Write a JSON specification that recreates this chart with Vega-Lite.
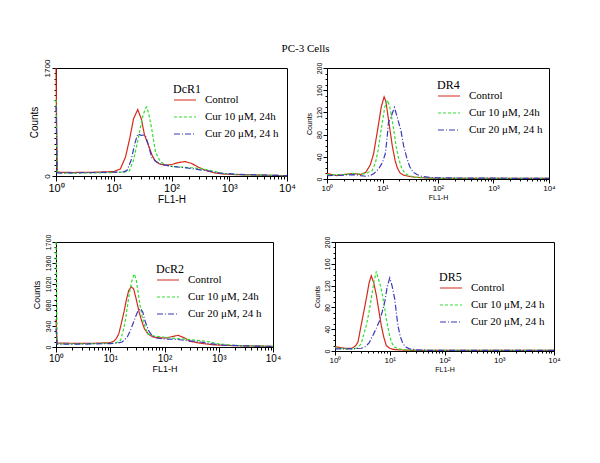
{
  "$schema": "https://vega.github.io/schema/vega-lite/v6.json",
  "background": "white",
  "padding": {"left": 28, "top": 42, "right": 5, "bottom": 5},
  "title": {"text": "PC-3 Cells", "font": "Liberation Serif", "fontSize": 11, "fontWeight": "normal", "color": "black", "anchor": "middle", "offset": 5, "dx": 11},
  "config": {
    "view": {"stroke": "black", "strokeWidth": 1},
    "axis": {"grid": false, "domainColor": "black", "tickColor": "black", "labelColor": "black", "titleColor": "black", "labelFont": "Liberation Sans", "titleFont": "Liberation Sans", "titleFontWeight": "normal", "labelOverlap": false, "labelFlush": false},
    "axisY": {"labelAngle": -90, "labelAlign": "center", "labelBaseline": "bottom", "labelPadding": 1, "format": "d"},
    "axisX": {"labelPadding": 1, "titlePadding": 1},
    "legend": {"orient": "none", "symbolType": "stroke", "symbolSize": 484, "symbolStrokeWidth": 1.2, "labelOffset": 8, "titleFont": "Liberation Serif", "titleFontWeight": "normal", "titleColor": "black", "labelFont": "Liberation Serif", "labelColor": "black", "rowPadding": 0, "titlePadding": -8, "titleFontSize": 12, "labelFontSize": 11}
  },
  "datasets": {
    "dcr1": [
      {"fl": 1, "c": 1700, "s": "Control"}, {"fl": 1.05, "c": 60, "s": "Control"}, {"fl": 2, "c": 55, "s": "Control"}, {"fl": 5, "c": 60, "s": "Control"}, {"fl": 10, "c": 70, "s": "Control"}, {"fl": 13, "c": 110, "s": "Control"}, {"fl": 16, "c": 300, "s": "Control"}, {"fl": 19, "c": 600, "s": "Control"}, {"fl": 22, "c": 900, "s": "Control"}, {"fl": 26, "c": 1045, "s": "Control"}, {"fl": 30, "c": 900, "s": "Control"}, {"fl": 34, "c": 650, "s": "Control"}, {"fl": 40, "c": 480, "s": "Control"}, {"fl": 46, "c": 330, "s": "Control"}, {"fl": 52, "c": 240, "s": "Control"}, {"fl": 62, "c": 190, "s": "Control"}, {"fl": 77, "c": 170, "s": "Control"}, {"fl": 100, "c": 180, "s": "Control"}, {"fl": 130, "c": 210, "s": "Control"}, {"fl": 170, "c": 227, "s": "Control"}, {"fl": 220, "c": 200, "s": "Control"}, {"fl": 290, "c": 140, "s": "Control"}, {"fl": 372, "c": 95, "s": "Control"}, {"fl": 550, "c": 50, "s": "Control"}, {"fl": 800, "c": 30, "s": "Control"}, {"fl": 1500, "c": 20, "s": "Control"}, {"fl": 3000, "c": 15, "s": "Control"}, {"fl": 6000, "c": 10, "s": "Control"}, {"fl": 10000, "c": 5, "s": "Control"},
      {"fl": 1, "c": 1200, "s": "Cur 10 μM, 24h"}, {"fl": 1.05, "c": 45, "s": "Cur 10 μM, 24h"}, {"fl": 2, "c": 45, "s": "Cur 10 μM, 24h"}, {"fl": 5, "c": 50, "s": "Cur 10 μM, 24h"}, {"fl": 10, "c": 55, "s": "Cur 10 μM, 24h"}, {"fl": 15, "c": 60, "s": "Cur 10 μM, 24h"}, {"fl": 18.6, "c": 80, "s": "Cur 10 μM, 24h"}, {"fl": 22, "c": 250, "s": "Cur 10 μM, 24h"}, {"fl": 26, "c": 550, "s": "Cur 10 μM, 24h"}, {"fl": 31, "c": 900, "s": "Cur 10 μM, 24h"}, {"fl": 35, "c": 1060, "s": "Cur 10 μM, 24h"}, {"fl": 37.4, "c": 1086, "s": "Cur 10 μM, 24h"}, {"fl": 41, "c": 950, "s": "Cur 10 μM, 24h"}, {"fl": 45.5, "c": 742, "s": "Cur 10 μM, 24h"}, {"fl": 53, "c": 371, "s": "Cur 10 μM, 24h"}, {"fl": 63, "c": 238, "s": "Cur 10 μM, 24h"}, {"fl": 77, "c": 175, "s": "Cur 10 μM, 24h"}, {"fl": 100, "c": 150, "s": "Cur 10 μM, 24h"}, {"fl": 150, "c": 140, "s": "Cur 10 μM, 24h"}, {"fl": 220, "c": 130, "s": "Cur 10 μM, 24h"}, {"fl": 365, "c": 110, "s": "Cur 10 μM, 24h"}, {"fl": 500, "c": 80, "s": "Cur 10 μM, 24h"}, {"fl": 800, "c": 40, "s": "Cur 10 μM, 24h"}, {"fl": 1500, "c": 20, "s": "Cur 10 μM, 24h"}, {"fl": 3000, "c": 15, "s": "Cur 10 μM, 24h"}, {"fl": 10000, "c": 5, "s": "Cur 10 μM, 24h"},
      {"fl": 1, "c": 1100, "s": "Cur 20 μM, 24 h"}, {"fl": 1.05, "c": 50, "s": "Cur 20 μM, 24 h"}, {"fl": 2, "c": 50, "s": "Cur 20 μM, 24 h"}, {"fl": 5, "c": 55, "s": "Cur 20 μM, 24 h"}, {"fl": 10, "c": 60, "s": "Cur 20 μM, 24 h"}, {"fl": 15, "c": 65, "s": "Cur 20 μM, 24 h"}, {"fl": 17, "c": 90, "s": "Cur 20 μM, 24 h"}, {"fl": 20, "c": 250, "s": "Cur 20 μM, 24 h"}, {"fl": 23, "c": 500, "s": "Cur 20 μM, 24 h"}, {"fl": 26, "c": 663, "s": "Cur 20 μM, 24 h"}, {"fl": 30, "c": 640, "s": "Cur 20 μM, 24 h"}, {"fl": 35, "c": 647, "s": "Cur 20 μM, 24 h"}, {"fl": 40, "c": 480, "s": "Cur 20 μM, 24 h"}, {"fl": 45.5, "c": 291, "s": "Cur 20 μM, 24 h"}, {"fl": 55, "c": 220, "s": "Cur 20 μM, 24 h"}, {"fl": 67, "c": 186, "s": "Cur 20 μM, 24 h"}, {"fl": 100, "c": 150, "s": "Cur 20 μM, 24 h"}, {"fl": 166, "c": 132, "s": "Cur 20 μM, 24 h"}, {"fl": 250, "c": 110, "s": "Cur 20 μM, 24 h"}, {"fl": 425, "c": 80, "s": "Cur 20 μM, 24 h"}, {"fl": 700, "c": 45, "s": "Cur 20 μM, 24 h"}, {"fl": 1500, "c": 25, "s": "Cur 20 μM, 24 h"}, {"fl": 3000, "c": 18, "s": "Cur 20 μM, 24 h"}, {"fl": 10000, "c": 5, "s": "Cur 20 μM, 24 h"}
    ],
    "dr4": [
      {"fl": 1, "c": 10, "s": "Control"}, {"fl": 1.5, "c": 6, "s": "Control"}, {"fl": 2, "c": 8, "s": "Control"}, {"fl": 3, "c": 10, "s": "Control"}, {"fl": 4, "c": 8, "s": "Control"}, {"fl": 5, "c": 12, "s": "Control"}, {"fl": 6, "c": 25, "s": "Control"}, {"fl": 6.9, "c": 45, "s": "Control"}, {"fl": 8.3, "c": 93, "s": "Control"}, {"fl": 9.5, "c": 130, "s": "Control"}, {"fl": 10.7, "c": 148, "s": "Control"}, {"fl": 11.5, "c": 140, "s": "Control"}, {"fl": 12.5, "c": 115, "s": "Control"}, {"fl": 13.7, "c": 87, "s": "Control"}, {"fl": 15, "c": 60, "s": "Control"}, {"fl": 16.9, "c": 33, "s": "Control"}, {"fl": 18.5, "c": 20, "s": "Control"}, {"fl": 20.7, "c": 11, "s": "Control"}, {"fl": 24, "c": 7, "s": "Control"}, {"fl": 28.8, "c": 5, "s": "Control"}, {"fl": 40, "c": 3, "s": "Control"}, {"fl": 60, "c": 2, "s": "Control"}, {"fl": 100, "c": 1, "s": "Control"}, {"fl": 1000, "c": 1, "s": "Control"}, {"fl": 10000, "c": 1, "s": "Control"},
      {"fl": 1, "c": 8, "s": "Cur 10 μM, 24h"}, {"fl": 2, "c": 8, "s": "Cur 10 μM, 24h"}, {"fl": 3, "c": 10, "s": "Cur 10 μM, 24h"}, {"fl": 4, "c": 9, "s": "Cur 10 μM, 24h"}, {"fl": 5, "c": 10, "s": "Cur 10 μM, 24h"}, {"fl": 6.5, "c": 15, "s": "Cur 10 μM, 24h"}, {"fl": 7.5, "c": 30, "s": "Cur 10 μM, 24h"}, {"fl": 8.3, "c": 51, "s": "Cur 10 μM, 24h"}, {"fl": 9, "c": 75, "s": "Cur 10 μM, 24h"}, {"fl": 9.8, "c": 99, "s": "Cur 10 μM, 24h"}, {"fl": 11, "c": 130, "s": "Cur 10 μM, 24h"}, {"fl": 12.3, "c": 142, "s": "Cur 10 μM, 24h"}, {"fl": 13.5, "c": 130, "s": "Cur 10 μM, 24h"}, {"fl": 15.7, "c": 93, "s": "Cur 10 μM, 24h"}, {"fl": 17.5, "c": 60, "s": "Cur 10 μM, 24h"}, {"fl": 19.3, "c": 39, "s": "Cur 10 μM, 24h"}, {"fl": 22, "c": 20, "s": "Cur 10 μM, 24h"}, {"fl": 25.4, "c": 10, "s": "Cur 10 μM, 24h"}, {"fl": 30, "c": 6, "s": "Cur 10 μM, 24h"}, {"fl": 40, "c": 3, "s": "Cur 10 μM, 24h"}, {"fl": 60, "c": 2, "s": "Cur 10 μM, 24h"}, {"fl": 100, "c": 1, "s": "Cur 10 μM, 24h"}, {"fl": 10000, "c": 1, "s": "Cur 10 μM, 24h"},
      {"fl": 1, "c": 6, "s": "Cur 20 μM, 24 h"}, {"fl": 2, "c": 7, "s": "Cur 20 μM, 24 h"}, {"fl": 3, "c": 8, "s": "Cur 20 μM, 24 h"}, {"fl": 4, "c": 6, "s": "Cur 20 μM, 24 h"}, {"fl": 5, "c": 5, "s": "Cur 20 μM, 24 h"}, {"fl": 6, "c": 6, "s": "Cur 20 μM, 24 h"}, {"fl": 7, "c": 10, "s": "Cur 20 μM, 24 h"}, {"fl": 8.5, "c": 18, "s": "Cur 20 μM, 24 h"}, {"fl": 10, "c": 30, "s": "Cur 20 μM, 24 h"}, {"fl": 11.2, "c": 45, "s": "Cur 20 μM, 24 h"}, {"fl": 12, "c": 70, "s": "Cur 20 μM, 24 h"}, {"fl": 12.8, "c": 102, "s": "Cur 20 μM, 24 h"}, {"fl": 14, "c": 110, "s": "Cur 20 μM, 24 h"}, {"fl": 15.5, "c": 122, "s": "Cur 20 μM, 24 h"}, {"fl": 16.4, "c": 129, "s": "Cur 20 μM, 24 h"}, {"fl": 18, "c": 115, "s": "Cur 20 μM, 24 h"}, {"fl": 21.5, "c": 87, "s": "Cur 20 μM, 24 h"}, {"fl": 24, "c": 60, "s": "Cur 20 μM, 24 h"}, {"fl": 27.2, "c": 39, "s": "Cur 20 μM, 24 h"}, {"fl": 31, "c": 22, "s": "Cur 20 μM, 24 h"}, {"fl": 35.7, "c": 12, "s": "Cur 20 μM, 24 h"}, {"fl": 42, "c": 8, "s": "Cur 20 μM, 24 h"}, {"fl": 50, "c": 5, "s": "Cur 20 μM, 24 h"}, {"fl": 70, "c": 3, "s": "Cur 20 μM, 24 h"}, {"fl": 100, "c": 2, "s": "Cur 20 μM, 24 h"}, {"fl": 10000, "c": 1, "s": "Cur 20 μM, 24 h"}
    ],
    "dcr2": [
      {"fl": 1, "c": 450, "s": "Control"}, {"fl": 1.05, "c": 65, "s": "Control"}, {"fl": 2, "c": 60, "s": "Control"}, {"fl": 5, "c": 60, "s": "Control"}, {"fl": 10, "c": 70, "s": "Control"}, {"fl": 11.6, "c": 92, "s": "Control"}, {"fl": 13, "c": 140, "s": "Control"}, {"fl": 14.4, "c": 216, "s": "Control"}, {"fl": 16, "c": 380, "s": "Control"}, {"fl": 17.9, "c": 567, "s": "Control"}, {"fl": 20, "c": 780, "s": "Control"}, {"fl": 22, "c": 920, "s": "Control"}, {"fl": 24.5, "c": 975, "s": "Control"}, {"fl": 27, "c": 940, "s": "Control"}, {"fl": 30, "c": 780, "s": "Control"}, {"fl": 34, "c": 567, "s": "Control"}, {"fl": 38, "c": 420, "s": "Control"}, {"fl": 42.5, "c": 297, "s": "Control"}, {"fl": 50, "c": 210, "s": "Control"}, {"fl": 61, "c": 162, "s": "Control"}, {"fl": 80, "c": 150, "s": "Control"}, {"fl": 108, "c": 146, "s": "Control"}, {"fl": 140, "c": 170, "s": "Control"}, {"fl": 179, "c": 189, "s": "Control"}, {"fl": 230, "c": 150, "s": "Control"}, {"fl": 297, "c": 92, "s": "Control"}, {"fl": 400, "c": 70, "s": "Control"}, {"fl": 528, "c": 54, "s": "Control"}, {"fl": 800, "c": 35, "s": "Control"}, {"fl": 1500, "c": 25, "s": "Control"}, {"fl": 3000, "c": 18, "s": "Control"}, {"fl": 10000, "c": 10, "s": "Control"},
      {"fl": 1, "c": 1700, "s": "Cur 10 μM, 24h"}, {"fl": 1.05, "c": 50, "s": "Cur 10 μM, 24h"}, {"fl": 2, "c": 50, "s": "Cur 10 μM, 24h"}, {"fl": 5, "c": 55, "s": "Cur 10 μM, 24h"}, {"fl": 10, "c": 60, "s": "Cur 10 μM, 24h"}, {"fl": 13, "c": 70, "s": "Cur 10 μM, 24h"}, {"fl": 15.5, "c": 108, "s": "Cur 10 μM, 24h"}, {"fl": 17.5, "c": 280, "s": "Cur 10 μM, 24h"}, {"fl": 19.2, "c": 458, "s": "Cur 10 μM, 24h"}, {"fl": 22.2, "c": 837, "s": "Cur 10 μM, 24h"}, {"fl": 25, "c": 1070, "s": "Cur 10 μM, 24h"}, {"fl": 27.6, "c": 1180, "s": "Cur 10 μM, 24h"}, {"fl": 30, "c": 1100, "s": "Cur 10 μM, 24h"}, {"fl": 33.2, "c": 837, "s": "Cur 10 μM, 24h"}, {"fl": 36, "c": 640, "s": "Cur 10 μM, 24h"}, {"fl": 39.5, "c": 458, "s": "Cur 10 μM, 24h"}, {"fl": 44, "c": 320, "s": "Cur 10 μM, 24h"}, {"fl": 49, "c": 216, "s": "Cur 10 μM, 24h"}, {"fl": 65, "c": 175, "s": "Cur 10 μM, 24h"}, {"fl": 94, "c": 162, "s": "Cur 10 μM, 24h"}, {"fl": 150, "c": 140, "s": "Cur 10 μM, 24h"}, {"fl": 250, "c": 125, "s": "Cur 10 μM, 24h"}, {"fl": 390, "c": 108, "s": "Cur 10 μM, 24h"}, {"fl": 550, "c": 95, "s": "Cur 10 μM, 24h"}, {"fl": 705, "c": 81, "s": "Cur 10 μM, 24h"}, {"fl": 1000, "c": 50, "s": "Cur 10 μM, 24h"}, {"fl": 2000, "c": 25, "s": "Cur 10 μM, 24h"}, {"fl": 5000, "c": 15, "s": "Cur 10 μM, 24h"}, {"fl": 10000, "c": 10, "s": "Cur 10 μM, 24h"},
      {"fl": 1, "c": 300, "s": "Cur 20 μM, 24 h"}, {"fl": 1.05, "c": 45, "s": "Cur 20 μM, 24 h"}, {"fl": 2, "c": 45, "s": "Cur 20 μM, 24 h"}, {"fl": 5, "c": 50, "s": "Cur 20 μM, 24 h"}, {"fl": 10, "c": 55, "s": "Cur 20 μM, 24 h"}, {"fl": 14, "c": 65, "s": "Cur 20 μM, 24 h"}, {"fl": 16.6, "c": 81, "s": "Cur 20 μM, 24 h"}, {"fl": 18.5, "c": 120, "s": "Cur 20 μM, 24 h"}, {"fl": 20.6, "c": 162, "s": "Cur 20 μM, 24 h"}, {"fl": 23, "c": 250, "s": "Cur 20 μM, 24 h"}, {"fl": 25.6, "c": 351, "s": "Cur 20 μM, 24 h"}, {"fl": 29, "c": 480, "s": "Cur 20 μM, 24 h"}, {"fl": 33, "c": 600, "s": "Cur 20 μM, 24 h"}, {"fl": 36.7, "c": 620, "s": "Cur 20 μM, 24 h"}, {"fl": 40, "c": 560, "s": "Cur 20 μM, 24 h"}, {"fl": 42.5, "c": 458, "s": "Cur 20 μM, 24 h"}, {"fl": 47, "c": 340, "s": "Cur 20 μM, 24 h"}, {"fl": 52.5, "c": 243, "s": "Cur 20 μM, 24 h"}, {"fl": 60, "c": 180, "s": "Cur 20 μM, 24 h"}, {"fl": 70, "c": 146, "s": "Cur 20 μM, 24 h"}, {"fl": 100, "c": 130, "s": "Cur 20 μM, 24 h"}, {"fl": 166, "c": 124, "s": "Cur 20 μM, 24 h"}, {"fl": 250, "c": 105, "s": "Cur 20 μM, 24 h"}, {"fl": 457, "c": 81, "s": "Cur 20 μM, 24 h"}, {"fl": 700, "c": 55, "s": "Cur 20 μM, 24 h"}, {"fl": 1200, "c": 30, "s": "Cur 20 μM, 24 h"}, {"fl": 3000, "c": 18, "s": "Cur 20 μM, 24 h"}, {"fl": 10000, "c": 10, "s": "Cur 20 μM, 24 h"}
    ],
    "dr5": [
      {"fl": 1, "c": 8, "s": "Control"}, {"fl": 1.5, "c": 5, "s": "Control"}, {"fl": 2, "c": 5, "s": "Control"}, {"fl": 2.13, "c": 6, "s": "Control"}, {"fl": 2.4, "c": 10, "s": "Control"}, {"fl": 2.63, "c": 16.5, "s": "Control"}, {"fl": 3, "c": 47, "s": "Control"}, {"fl": 3.4, "c": 75, "s": "Control"}, {"fl": 3.73, "c": 96, "s": "Control"}, {"fl": 4.2, "c": 125, "s": "Control"}, {"fl": 4.6, "c": 138, "s": "Control"}, {"fl": 5.1, "c": 125, "s": "Control"}, {"fl": 5.7, "c": 102, "s": "Control"}, {"fl": 6.3, "c": 75, "s": "Control"}, {"fl": 7, "c": 47, "s": "Control"}, {"fl": 7.8, "c": 25, "s": "Control"}, {"fl": 8.65, "c": 10, "s": "Control"}, {"fl": 10, "c": 5, "s": "Control"}, {"fl": 11.5, "c": 3, "s": "Control"}, {"fl": 15, "c": 2, "s": "Control"}, {"fl": 30, "c": 1, "s": "Control"}, {"fl": 10000, "c": 1, "s": "Control"},
      {"fl": 1, "c": 6, "s": "Cur 10 μM, 24 h"}, {"fl": 1.5, "c": 4, "s": "Cur 10 μM, 24 h"}, {"fl": 2, "c": 4, "s": "Cur 10 μM, 24 h"}, {"fl": 2.5, "c": 5, "s": "Cur 10 μM, 24 h"}, {"fl": 3, "c": 13, "s": "Cur 10 μM, 24 h"}, {"fl": 3.3, "c": 28, "s": "Cur 10 μM, 24 h"}, {"fl": 3.73, "c": 47, "s": "Cur 10 μM, 24 h"}, {"fl": 4.2, "c": 72, "s": "Cur 10 μM, 24 h"}, {"fl": 4.6, "c": 96, "s": "Cur 10 μM, 24 h"}, {"fl": 5.1, "c": 125, "s": "Cur 10 μM, 24 h"}, {"fl": 5.68, "c": 146, "s": "Cur 10 μM, 24 h"}, {"fl": 6.3, "c": 130, "s": "Cur 10 μM, 24 h"}, {"fl": 7, "c": 114, "s": "Cur 10 μM, 24 h"}, {"fl": 7.8, "c": 88, "s": "Cur 10 μM, 24 h"}, {"fl": 8.65, "c": 59, "s": "Cur 10 μM, 24 h"}, {"fl": 9.6, "c": 35, "s": "Cur 10 μM, 24 h"}, {"fl": 10.7, "c": 16.5, "s": "Cur 10 μM, 24 h"}, {"fl": 12, "c": 8, "s": "Cur 10 μM, 24 h"}, {"fl": 14, "c": 4, "s": "Cur 10 μM, 24 h"}, {"fl": 20, "c": 2, "s": "Cur 10 μM, 24 h"}, {"fl": 40, "c": 1, "s": "Cur 10 μM, 24 h"}, {"fl": 10000, "c": 1, "s": "Cur 10 μM, 24 h"},
      {"fl": 1, "c": 4, "s": "Cur 20 μM, 24 h"}, {"fl": 2, "c": 4, "s": "Cur 20 μM, 24 h"}, {"fl": 3, "c": 5, "s": "Cur 20 μM, 24 h"}, {"fl": 3.5, "c": 7, "s": "Cur 20 μM, 24 h"}, {"fl": 4.2, "c": 15, "s": "Cur 20 μM, 24 h"}, {"fl": 4.94, "c": 29, "s": "Cur 20 μM, 24 h"}, {"fl": 5.7, "c": 42, "s": "Cur 20 μM, 24 h"}, {"fl": 6.55, "c": 56, "s": "Cur 20 μM, 24 h"}, {"fl": 7.3, "c": 72, "s": "Cur 20 μM, 24 h"}, {"fl": 8.1, "c": 90, "s": "Cur 20 μM, 24 h"}, {"fl": 9, "c": 118, "s": "Cur 20 μM, 24 h"}, {"fl": 10, "c": 134, "s": "Cur 20 μM, 24 h"}, {"fl": 11, "c": 120, "s": "Cur 20 μM, 24 h"}, {"fl": 12.3, "c": 96, "s": "Cur 20 μM, 24 h"}, {"fl": 13.2, "c": 70, "s": "Cur 20 μM, 24 h"}, {"fl": 14.1, "c": 47, "s": "Cur 20 μM, 24 h"}, {"fl": 15.6, "c": 26, "s": "Cur 20 μM, 24 h"}, {"fl": 17.5, "c": 13, "s": "Cur 20 μM, 24 h"}, {"fl": 20, "c": 7, "s": "Cur 20 μM, 24 h"}, {"fl": 23, "c": 4, "s": "Cur 20 μM, 24 h"}, {"fl": 30, "c": 2, "s": "Cur 20 μM, 24 h"}, {"fl": 60, "c": 1, "s": "Cur 20 μM, 24 h"}, {"fl": 10000, "c": 1, "s": "Cur 20 μM, 24 h"}
    ]
  },
  "resolve": {"scale": {"color": "independent", "strokeDash": "independent"}, "legend": {"color": "independent", "strokeDash": "independent"}},
  "spacing": 28,
  "vconcat": [
    {
      "spacing": 8,
      "resolve": {"scale": {"color": "independent", "strokeDash": "independent"}, "legend": {"color": "independent", "strokeDash": "independent"}},
      "hconcat": [
        {
          "width": 231, "height": 108,
          "data": {"name": "dcr1"},
          "mark": {"type": "line", "strokeWidth": 1.2},
          "encoding": {
            "x": {"field": "fl", "type": "quantitative", "scale": {"type": "log", "domain": [1, 10000]}, "title": "FL1-H",
              "axis": {"values": [1,2,3,4,5,6,7,8,9,10,20,30,40,50,60,70,80,90,100,200,300,400,500,600,700,800,900,1000,2000,3000,4000,5000,6000,7000,8000,9000,10000],
                "labelExpr": "datum.value==1?'10⁰':datum.value==10?'10¹':datum.value==100?'10²':datum.value==1000?'10³':datum.value==10000?'10⁴':''",
                "tickSize": {"condition": {"test": "indexof([1,10,100,1000,10000], datum.value) >= 0", "value": 5}, "value": 3},
                "labelFontSize": 11, "titleFontSize": 10}},
            "y": {"field": "c", "type": "quantitative", "scale": {"domain": [0, 1700]}, "title": "Counts",
              "axis": {"values": [0,85,170,255,340,425,510,595,680,765,850,935,1020,1105,1190,1275,1360,1445,1530,1615,1700],
                "labelExpr": "datum.value==0||datum.value==1700?datum.label:''",
                "tickSize": {"condition": {"test": "datum.value==0||datum.value==1700", "value": 4}, "value": 2},
                "labelFontSize": 8, "titleFontSize": 10, "titlePadding": 4}},
            "color": {"field": "s", "type": "nominal", "scale": {"domain": ["Control", "Cur 10 μM, 24h", "Cur 20 μM, 24 h"], "range": ["#d42a1a", "#2ee02e", "#3a3ab8"]},
              "legend": {"title": "DcR1", "legendX": 117, "legendY": 16}},
            "strokeDash": {"field": "s", "type": "nominal", "scale": {"domain": ["Control", "Cur 10 μM, 24h", "Cur 20 μM, 24 h"], "range": [[1, 0], [3, 2], [6, 2, 1, 2]]},
              "legend": {"title": "DcR1", "legendX": 117, "legendY": 16}}
          }
        },
        {
          "width": 222, "height": 111,
          "data": {"name": "dr4"},
          "mark": {"type": "line", "strokeWidth": 1.2},
          "encoding": {
            "x": {"field": "fl", "type": "quantitative", "scale": {"type": "log", "domain": [1, 10000]}, "title": "FL1-H",
              "axis": {"values": [1,2,3,4,5,6,7,8,9,10,20,30,40,50,60,70,80,90,100,200,300,400,500,600,700,800,900,1000,2000,3000,4000,5000,6000,7000,8000,9000,10000],
                "labelExpr": "datum.value==1?'10⁰':datum.value==10?'10¹':datum.value==100?'10²':datum.value==1000?'10³':datum.value==10000?'10⁴':''",
                "tickSize": {"condition": {"test": "indexof([1,10,100,1000,10000], datum.value) >= 0", "value": 4}, "value": 2},
                "labelFontSize": 8, "titleFontSize": 7}},
            "y": {"field": "c", "type": "quantitative", "scale": {"domain": [0, 200]}, "title": "Counts",
              "axis": {"values": [0,10,20,30,40,50,60,70,80,90,100,110,120,130,140,150,160,170,180,190,200],
                "labelExpr": "datum.value%40==0?datum.label:''",
                "tickSize": {"condition": {"test": "datum.value%40==0", "value": 4}, "value": 2},
                "labelFontSize": 7, "titleFontSize": 7, "titlePadding": 3}},
            "color": {"field": "s", "type": "nominal", "scale": {"domain": ["Control", "Cur 10 μM, 24h", "Cur 20 μM, 24 h"], "range": ["#d42a1a", "#2ee02e", "#3a3ab8"]},
              "legend": {"title": "DR4", "legendX": 110, "legendY": 12}},
            "strokeDash": {"field": "s", "type": "nominal", "scale": {"domain": ["Control", "Cur 10 μM, 24h", "Cur 20 μM, 24 h"], "range": [[1, 0], [3, 2], [6, 2, 1, 2]]},
              "legend": {"title": "DR4", "legendX": 110, "legendY": 12}}
          }
        }
      ]
    },
    {
      "spacing": 30,
      "resolve": {"scale": {"color": "independent", "strokeDash": "independent"}, "legend": {"color": "independent", "strokeDash": "independent"}},
      "hconcat": [
        {
          "width": 217, "height": 105,
          "data": {"name": "dcr2"},
          "mark": {"type": "line", "strokeWidth": 1.2},
          "encoding": {
            "x": {"field": "fl", "type": "quantitative", "scale": {"type": "log", "domain": [1, 10000]}, "title": "FL1-H",
              "axis": {"values": [1,2,3,4,5,6,7,8,9,10,20,30,40,50,60,70,80,90,100,200,300,400,500,600,700,800,900,1000,2000,3000,4000,5000,6000,7000,8000,9000,10000],
                "labelExpr": "datum.value==1?'10⁰':datum.value==10?'10¹':datum.value==100?'10²':datum.value==1000?'10³':datum.value==10000?'10⁴':''",
                "tickSize": {"condition": {"test": "indexof([1,10,100,1000,10000], datum.value) >= 0", "value": 5}, "value": 3},
                "labelFontSize": 10, "titleFontSize": 9}},
            "y": {"field": "c", "type": "quantitative", "scale": {"domain": [0, 1700]}, "title": "Counts",
              "axis": {"values": [0,85,170,255,340,425,510,595,680,765,850,935,1020,1105,1190,1275,1360,1445,1530,1615,1700],
                "labelExpr": "datum.value%340==0?datum.label:''",
                "tickSize": {"condition": {"test": "datum.value%340==0", "value": 4}, "value": 2},
                "labelFontSize": 7, "titleFontSize": 9, "titlePadding": 3}},
            "color": {"field": "s", "type": "nominal", "scale": {"domain": ["Control", "Cur 10 μM, 24h", "Cur 20 μM, 24 h"], "range": ["#d42a1a", "#2ee02e", "#3a3ab8"]},
              "legend": {"title": "DcR2", "legendX": 100, "legendY": 22}},
            "strokeDash": {"field": "s", "type": "nominal", "scale": {"domain": ["Control", "Cur 10 μM, 24h", "Cur 20 μM, 24 h"], "range": [[1, 0], [3, 2], [6, 2, 1, 2]]},
              "legend": {"title": "DcR2", "legendX": 100, "legendY": 22}}
          }
        },
        {
          "width": 219, "height": 109,
          "data": {"name": "dr5"},
          "mark": {"type": "line", "strokeWidth": 1.2},
          "encoding": {
            "x": {"field": "fl", "type": "quantitative", "scale": {"type": "log", "domain": [1, 10000]}, "title": "FL1-H",
              "axis": {"values": [1,2,3,4,5,6,7,8,9,10,20,30,40,50,60,70,80,90,100,200,300,400,500,600,700,800,900,1000,2000,3000,4000,5000,6000,7000,8000,9000,10000],
                "labelExpr": "datum.value==1?'10⁰':datum.value==10?'10¹':datum.value==100?'10²':datum.value==1000?'10³':datum.value==10000?'10⁴':''",
                "tickSize": {"condition": {"test": "indexof([1,10,100,1000,10000], datum.value) >= 0", "value": 4}, "value": 2},
                "labelFontSize": 8, "titleFontSize": 7}},
            "y": {"field": "c", "type": "quantitative", "scale": {"domain": [0, 200]}, "title": "Counts",
              "axis": {"values": [0,10,20,30,40,50,60,70,80,90,100,110,120,130,140,150,160,170,180,190,200],
                "labelExpr": "datum.value%40==0?datum.label:''",
                "tickSize": {"condition": {"test": "datum.value%40==0", "value": 4}, "value": 2},
                "labelFontSize": 7, "titleFontSize": 7, "titlePadding": 3}},
            "color": {"field": "s", "type": "nominal", "scale": {"domain": ["Control", "Cur 10 μM, 24 h", "Cur 20 μM, 24 h"], "range": ["#d42a1a", "#2ee02e", "#3a3ab8"]},
              "legend": {"title": "DR5", "legendX": 104, "legendY": 30}},
            "strokeDash": {"field": "s", "type": "nominal", "scale": {"domain": ["Control", "Cur 10 μM, 24 h", "Cur 20 μM, 24 h"], "range": [[1, 0], [3, 2], [6, 2, 1, 2]]},
              "legend": {"title": "DR5", "legendX": 104, "legendY": 30}}
          }
        }
      ]
    }
  ]
}
